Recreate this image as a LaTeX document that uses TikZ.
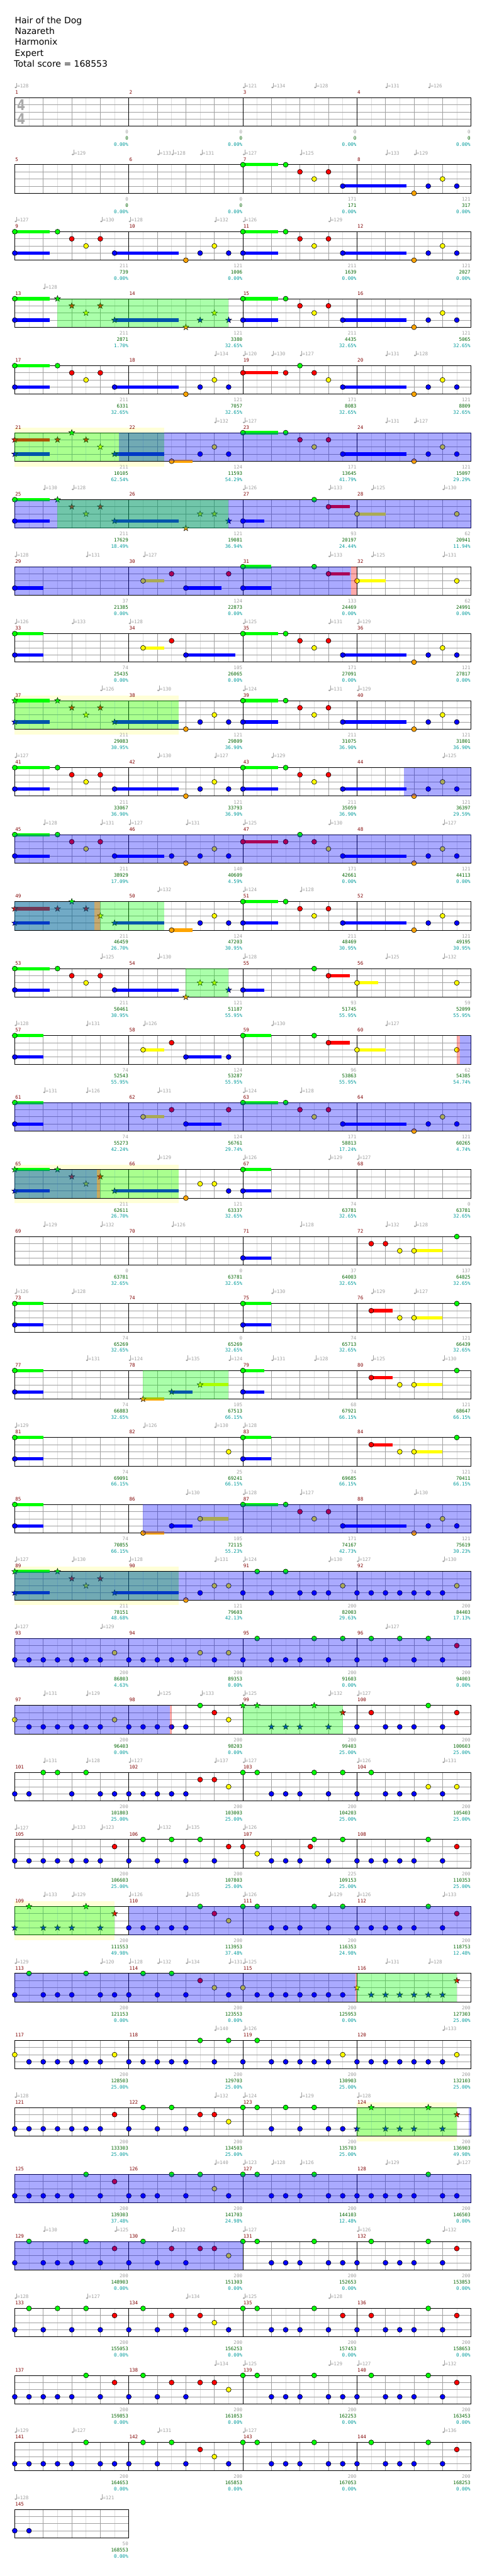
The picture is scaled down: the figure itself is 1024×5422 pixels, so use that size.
\documentclass[tikz,border=0pt]{standalone}
\usepackage{fontspec}
\setmainfont{DejaVu Sans}
\newfontfamily\monof{DejaVu Sans Mono}
\pgfdeclarelayer{base}\pgfdeclarelayer{bg}\pgfdeclarelayer{ov}
\pgfsetlayers{base,bg,main,ov}
\definecolor{ng}{RGB}{0,255,0}
\definecolor{nr}{RGB}{255,0,0}
\definecolor{ny}{RGB}{255,255,0}
\definecolor{nb}{RGB}{0,0,255}
\definecolor{no}{RGB}{255,165,0}
\definecolor{lgray}{RGB}{160,160,160}
\definecolor{hgray}{RGB}{222,222,222}
\definecolor{mred}{RGB}{128,0,0}
\definecolor{sgreen}{RGB}{0,100,0}
\definecolor{steal}{RGB}{0,155,155}
\definecolor{solocol}{RGB}{255,255,215}
\definecolor{tsig}{RGB}{170,170,170}
\def\lng{0}\def\lnr{1}\def\lny{2}\def\lnb{3}\def\lno{4}
\tikzset{
  hb/.style={hgray,line width=0.9pt},
  gl/.style={lgray,line width=0.9pt},
  ml/.style={black,line width=1pt},
  ol/.style={black,line width=1.1pt},
  smallf/.style={font=\monof\fontsize{10}{12}\selectfont,inner sep=0pt},
  mnum/.style={smallf,text=mred,anchor=west},
  sg/.style={smallf,text=lgray,anchor=east},
  sc/.style={smallf,text=sgreen,anchor=east},
  sp/.style={smallf,text=steal,anchor=east},
  tnum/.style={smallf,text=lgray,anchor=west},
  hdr/.style={font=\fontsize{18.5}{22}\selectfont,anchor=base west,inner sep=0pt},
  tsigst/.style={font=\fontsize{31}{31}\selectfont\bfseries,text=tsig,inner sep=0pt,xscale=0.8},
  notest/.style={draw=black,line width=0.8pt},
  starst/.style={draw=black,line width=0.6pt}
}
\newcommand\staff[2]{%
  \pgfmathsetmacro\sy{205.7+141*#1}%
  \pgfmathsetmacro\sxe{31+240*#2}%
  \pgfmathtruncatemacro\nk{8*#2-1}%
  \pgfmathtruncatemacro\nbb{8*#2-2}%
  \foreach \k in {1,3,...,\nk}{\draw[hb] (31+30*\k,\sy) -- (31+30*\k,\sy+60);}%
  \foreach \k in {1,2,3}{\draw[gl] (31,\sy+15*\k) -- (\sxe,\sy+15*\k);}%
  \foreach \k in {2,4,...,\nbb}{\draw[gl] (31+30*\k,\sy) -- (31+30*\k,\sy+60);}%
  \ifnum#2>1 \foreach \k in {2,...,#2}{\draw[ml] (31+240*\k-240,\sy) -- (31+240*\k-240,\sy+60);}\fi
  \draw[ol] (31,\sy) rectangle (\sxe,\sy+60);}
\newcommand\meas[4]{%
  \pgfmathtruncatemacro\mr{(#1-1)/4}%
  \pgfmathsetmacro\mx{31+240*(#1-1-4*\mr)}%
  \pgfmathsetmacro\my{205.7+141*\mr}%
  \node[mnum,name=mn#1] at (\mx+1,\my-11.4) {#1};%
  \node[sg,name=sa#1] at (\mx+239,\my+72.3) {#2};%
  \node[sc,name=sb#1] at (\mx+239,\my+85.5) {#3};%
  \node[sp,name=sd#1] at (\mx+239,\my+98.5) {#4\%};}
\newcommand\tempi[2]{\foreach \p/\tv in {#2}{%
  \fill[lgray] (33+30*\p,{205.7+141*#1-21.6}) ellipse[x radius=2.4pt,y radius=1.7pt];
  \draw[lgray,line width=0.8pt] (35+30*\p,{205.7+141*#1-21.6}) -- (35+30*\p,{205.7+141*#1-31.5});
  \node[tnum,name=tp#1x\p] at (36+30*\p,{205.7+141*#1-24.7}) {=\tv};}}
\newcommand\notes[2]{\foreach \p/\l in {#2}{%
  \filldraw[notest,fill=n\l] (31+30*\p,{205.7+141*#1+15*\csname ln\l\endcsname}) circle[radius=5.2pt];}}
\newcommand\stars[2]{\foreach \p/\l in {#2}{%
  \filldraw[starst,fill=n\l,shift={(31+30*\p,{205.7+141*#1+15*\csname ln\l\endcsname})}]
   (90:6.6pt) -- (126:2.7pt) -- (162:6.6pt) -- (198:2.7pt) -- (234:6.6pt) -- (270:2.7pt) -- (306:6.6pt) -- (342:2.7pt) -- (18:6.6pt) -- (54:2.7pt) -- cycle;}}
\newcommand\sust[2]{\foreach \a/\b/\l in {#2}{%
  \fill[n\l] (31+30*\a,{205.7+141*#1+15*\csname ln\l\endcsname-3.4}) rectangle (31+30*\b,{205.7+141*#1+15*\csname ln\l\endcsname+3.4});}}
\newcommand\solo[3]{\begin{pgfonlayer}{bg}\fill[solocol] (31+30*#2,{205.7+141*#1-10.5}) rectangle (31+30*#3,{205.7+141*#1+71});\end{pgfonlayer}}
\newcommand\ovl[4]{\begin{pgfonlayer}{ov}\fill[#4,fill opacity=0.3333] (31+30*#2,{205.7+141*#1}) rectangle (31+30*#3,{205.7+141*#1+60});\end{pgfonlayer}}
\newcommand\phr[3]{\ovl{#1}{#2}{#3}{ng}}
\newcommand\odv[3]{\ovl{#1}{#2}{#3}{nb}}
\newcommand\redb[3]{\ovl{#1}{#2}{#3}{nr}}
\begin{document}
\begin{tikzpicture}[x=1pt,y=-1pt]
\begin{pgfonlayer}{base}\fill[white] (0,0) rectangle (1024,5422);\end{pgfonlayer}
\useasboundingbox (0,0) rectangle (1024,5422);
\node[hdr,name=h1] at (31,49.3) {Hair of the Dog};
\node[hdr,name=h2] at (31,72.3) {Nazareth};
\node[hdr,name=h3] at (31,95.3) {Harmonix};
\node[hdr,name=h4] at (31,118.3) {Expert};
\node[hdr,name=h5] at (29.5,141.3) {Total score = 168553};
\foreach \r in {0,...,35}{\staff{\r}{4}}
\staff{36}{1}
\node[tsigst,name=ts1] at (44.5,220.5) {4};
\node[tsigst,name=ts2] at (44.5,250.2) {4};
\foreach \mm/\ma/\mb/\mc in {1/0/0/0.00,2/0/0/0.00,3/0/0/0.00,4/0/0/0.00,
5/0/0/0.00,6/0/0/0.00,7/171/171/0.00,8/121/317/0.00,
9/211/739/0.00,10/121/1006/0.00,11/211/1639/0.00,12/121/2027/0.00,
13/211/2871/1.70,14/121/3380/32.65,15/211/4435/32.65,16/121/5065/32.65,
17/211/6331/32.65,18/121/7057/32.65,19/171/8083/32.65,20/121/8809/32.65,
21/211/10105/62.54,22/124/11593/54.29,23/171/13645/41.79,24/121/15097/29.29,
25/211/17629/18.49,26/121/19081/36.94,27/93/20197/24.44,28/62/20941/11.94,
29/37/21385/0.00,30/124/22873/0.00,31/133/24469/0.00,32/62/24991/0.00,
33/74/25435/0.00,34/105/26065/0.00,35/171/27091/0.00,36/121/27817/0.00,
37/211/29083/30.95,38/121/29809/36.90,39/211/31075/36.90,40/121/31801/36.90,
41/211/33067/36.90,42/121/33793/36.90,43/211/35059/36.90,44/121/36397/29.59,
45/211/38929/17.09,46/140/40609/4.59,47/171/42661/0.00,48/121/44113/0.00,
49/211/46459/26.70,50/124/47203/30.95,51/211/48469/30.95,52/121/49195/30.95,
53/211/50461/30.95,54/121/51187/55.95,55/93/51745/55.95,56/59/52099/55.95,
57/74/52543/55.95,58/124/53287/55.95,59/96/53863/55.95,60/62/54385/54.74,
61/74/55273/42.24,62/124/56761/29.74,63/171/58813/17.24,64/121/60265/4.74,
65/211/62611/26.70,66/121/63337/32.65,67/74/63781/32.65,68/0/63781/32.65,
69/0/63781/32.65,70/0/63781/32.65,71/37/64003/32.65,72/137/64825/32.65,
73/74/65269/32.65,74/0/65269/32.65,75/74/65713/32.65,76/121/66439/32.65,
77/74/66883/32.65,78/105/67513/66.15,79/68/67921/66.15,80/121/68647/66.15,
81/74/69091/66.15,82/25/69241/66.15,83/74/69685/66.15,84/121/70411/66.15,
85/74/70855/66.15,86/105/72115/55.23,87/171/74167/42.73,88/121/75619/30.23,
89/211/78151/48.68,90/121/79603/42.13,91/200/82003/29.63,92/200/84403/17.13,
93/200/86803/4.63,94/200/89353/0.00,95/200/91603/0.00,96/200/94003/0.00,
97/200/96403/0.00,98/200/98203/0.00,99/200/99403/25.00,100/200/100603/25.00,
101/200/101803/25.00,102/200/103003/25.00,103/200/104203/25.00,104/200/105403/25.00,
105/200/106603/25.00,106/200/107803/25.00,107/225/109153/25.00,108/200/110353/25.00,
109/200/111553/49.98,110/200/113953/37.48,111/200/116353/24.98,112/200/118753/12.48,
113/200/121153/0.00,114/200/123553/0.00,115/200/125953/0.00,116/200/127303/25.00,
117/200/128503/25.00,118/200/129703/25.00,119/200/130903/25.00,120/200/132103/25.00,
121/200/133303/25.00,122/200/134503/25.00,123/200/135703/25.00,124/200/136903/49.98,
125/200/139303/37.48,126/200/141703/24.98,127/200/144103/12.48,128/200/146503/0.00,
129/200/148903/0.00,130/200/151303/0.00,131/200/152653/0.00,132/200/153853/0.00,
133/200/155053/0.00,134/200/156253/0.00,135/200/157453/0.00,136/200/158653/0.00,
137/200/159853/0.00,138/200/161053/0.00,139/200/162253/0.00,140/200/163453/0.00,
141/200/164653/0.00,142/200/165853/0.00,143/200/167053/0.00,144/200/168253/0.00,
145/50/168553/0.00}{\meas{\mm}{\ma}{\mb}{\mc}}
% row 0
\tempi{0}{0/128,16/121,18/134,21/128,26/131,29/126}
% row 1
\tempi{1}{4/129,10/133,11/128,13/131,16/127,20/125,26/133,28/129}
\sust{1}{16/18.49/g,23/27.48/b}
\notes{1}{16/g,19/g,20/r,21/y,22/r,23/b,28/o,29/b,30/y,31/b}
% row 2
\tempi{2}{0/127,6/130,8/128,14/132,16/126,22/129}
\sust{2}{0/2.47/g,0/2.47/b,7/11.48/b,16/18.49/g,16/18.49/b,23/27.48/b}
\notes{2}{0/g,3/g,4/r,5/y,6/r,0/b,7/b,12/o,13/b,14/y,15/b,16/g,19/g,20/r,21/y,22/r,16/b,23/b,28/o,29/b,30/y,31/b}
% row 3
\tempi{3}{2/128}
\phr{3}{3}{15}
\sust{3}{0/2.47/g,0/2.47/b,7/11.48/b,16/18.49/g,16/18.49/b,23/27.48/b}
\notes{3}{0/g,0/b,16/g,19/g,20/r,21/y,22/r,16/b,23/b,28/o,29/b,30/y,31/b}
\stars{3}{3/g,4/r,5/y,6/r,7/b,12/o,13/b,14/y,15/b}
% row 4
\tempi{4}{14/134,16/120,18/130,20/127,26/131,28/128}
\sust{4}{0/2.47/g,0/2.47/b,7/11.48/b,16/18.49/r,23/27.48/b}
\notes{4}{0/g,3/g,4/r,5/y,6/r,0/b,7/b,12/o,13/b,14/y,15/b,16/r,19/r,20/g,21/r,22/y,23/b,28/o,29/b,30/y,31/b}
% row 5
\tempi{5}{14/132,16/127,26/131,28/127}
\solo{5}{0}{10.5}
\phr{5}{0}{10.5}
\odv{5}{7.3}{32}
\sust{5}{0/2.47/r,0/2.47/b,7/10.5/b,11/12.48/o,16/18.49/g,23/27.48/b}
\notes{5}{11/o,13/b,14/y,15/b,16/g,19/g,20/r,21/y,22/r,23/b,28/o,29/b,30/y,31/b}
\stars{5}{0/r,0/b,3/r,4/g,5/r,6/y,7/b}
% row 6
\tempi{6}{2/130,4/128,16/126,22/133,25/125,30/130}
\odv{6}{0}{32}
\phr{6}{3}{15}
\sust{6}{0/2.47/g,0/2.47/b,7/11.48/b,16/17.49/b,22/23.5/r,24/26/y}
\notes{6}{0/g,0/b,16/b,21/g,22/r,24/y,31/y}
\stars{6}{3/g,4/r,5/y,6/r,7/b,12/o,13/y,14/y,15/b}
% row 7
\tempi{7}{0/128,5/131,9/127,22/133,25/125,30/131}
\odv{7}{0}{23.6}
\redb{7}{23.6}{24}
\sust{7}{0/2/b,9/10.48/y,12/14.49/b,16/18/g,16/18/b,22/23.5/r,24/26/y}
\notes{7}{0/b,9/y,11/r,15/r,12/b,16/g,16/b,21/g,22/r,24/y,31/y}
% row 8
\tempi{8}{0/126,4/133,8/128,16/125,22/131,24/129}
\sust{8}{0/2/g,0/2/b,9/10.48/y,12/15.49/b,16/18.49/g,23/27.48/b}
\notes{8}{0/g,0/b,9/y,11/r,12/b,16/g,19/g,20/r,21/y,22/r,23/b,28/o,29/b,30/y,31/b}
% row 9
\tempi{9}{6/126,10/130,16/124,22/131,24/129}
\solo{9}{0}{11.48}
\phr{9}{0}{11.48}
\sust{9}{0/2.47/g,0/2.47/b,7/11.48/b,16/18.49/g,16/18.49/b,23/27.48/b}
\notes{9}{12/o,13/b,14/y,15/b,16/g,19/g,20/r,21/y,22/r,16/b,23/b,28/o,29/b,30/y,31/b}
\stars{9}{0/g,3/g,4/r,5/y,6/r,0/b,7/b}
% row 10
\tempi{10}{0/127,10/130,14/127,18/129,30/125}
\odv{10}{27.3}{32}
\sust{10}{0/2.47/g,0/2.47/b,7/11.48/b,16/18.49/g,16/18.49/b,23/27.48/b}
\notes{10}{0/g,3/g,4/r,5/y,6/r,0/b,7/b,12/o,13/b,14/y,15/b,16/g,19/g,20/r,21/y,22/r,16/b,23/b,28/o,29/b,30/y,31/b}
% row 11
\tempi{11}{2/128,6/131,8/127,12/131,16/125,22/130,30/127}
\odv{11}{0}{32}
\sust{11}{0/2.47/g,0/2.47/b,7/10.48/b,16/18.49/r,23/27.48/b}
\notes{11}{0/g,3/g,4/r,5/y,6/r,0/b,7/b,11/b,12/o,13/b,14/y,15/b,16/r,19/r,20/g,21/r,22/y,23/b,28/o,29/b,30/y,31/b}
% row 12
\tempi{12}{10/132,16/124,20/128}
\phr{12}{0}{10.48}
\odv{12}{0}{5.6}
\redb{12}{5.6}{6}
\sust{12}{0/2.47/r,0/2.47/b,7/10.48/b,11/12.48/o,16/18.49/g,16/18.49/b,23/27.48/b}
\notes{12}{11/o,13/b,14/y,15/b,16/g,19/g,20/r,21/y,22/r,16/b,23/b,28/o,29/b,30/y,31/b}
\stars{12}{0/r,0/b,3/r,4/g,5/r,6/y,7/b}
% row 13
\tempi{13}{6/125,10/130,16/128,26/125,30/132}
\phr{13}{12}{15}
\sust{13}{0/2.47/g,0/2.47/b,7/11.48/b,16/17.49/b,22/23.5/r,24/25.5/y}
\notes{13}{0/g,3/g,4/r,5/y,6/r,0/b,7/b,16/b,21/g,22/r,24/y,31/y}
\stars{13}{12/o,13/y,14/y,15/b}
% row 14
\tempi{14}{0/128,5/131,9/126,18/130,26/127}
\redb{14}{31}{31.2}
\odv{14}{31.2}{32}
\sust{14}{0/2/g,0/2/b,9/10.48/y,12/14.49/b,16/18/g,22/23.5/r,24/26/y}
\notes{14}{0/g,0/b,9/y,11/r,12/b,15/b,16/g,21/g,22/r,24/y,31/y}
% row 15
\tempi{15}{2/131,5/126,10/131,16/124,20/128}
\odv{15}{0}{32}
\sust{15}{0/2/g,0/2/b,9/10.48/y,12/14.49/b,16/18.49/g,23/27.48/b}
\notes{15}{0/g,0/b,9/y,11/r,15/r,12/b,16/g,19/g,20/r,21/y,22/r,23/b,28/o,29/b,30/y,31/b}
% row 16
\tempi{16}{10/129,16/126,22/129,24/127}
\solo{16}{0}{11.48}
\phr{16}{0}{11.48}
\odv{16}{0}{5.76}
\redb{16}{5.76}{6}
\sust{16}{0/2.47/g,0/2.47/b,7/11.48/b,16/18/g,16/18/b}
\notes{16}{12/o,13/y,14/y,15/b,16/g,16/b}
\stars{16}{0/g,3/g,4/r,5/y,6/r,0/b,7/b}
% row 17
\tempi{17}{2/129,6/132,11/126,20/128,26/132,28/128}
\sust{17}{16/18/b,28/30/y}
\notes{17}{16/b,25/r,26/r,27/y,28/y,31/g}
% row 18
\tempi{18}{0/126,4/128,18/130,25/129,28/127}
\sust{18}{0/2/g,0/2/b,16/18/g,16/18/b,25/26.5/r,28/30/y}
\notes{18}{0/g,0/b,16/g,16/b,25/r,27/y,28/y,31/g}
% row 19
\tempi{19}{5/131,8/124,12/135,15/124,18/131,21/128,25/125,30/130}
\phr{19}{9}{15}
\sust{19}{0/2/g,0/2/b,9/10.48/o,11/12.48/b,13/15/y,16/17.49/g,16/17.49/b,25/26.5/r,28/30/y}
\notes{19}{0/g,0/b,16/g,16/b,25/r,27/y,28/y,31/g}
\stars{19}{9/o,11/b,13/y}
% row 20
\tempi{20}{0/129,9/126,14/130,16/128}
\sust{20}{0/2/g,0/2/b,16/18/g,16/18/b,25/26.5/r,28/30/y}
\notes{20}{0/g,0/b,15/y,16/g,16/b,25/r,27/y,28/y,31/g}
% row 21
\tempi{21}{12/130,16/128,20/127,28/130}
\odv{21}{9}{32}
\sust{21}{0/2/g,0/2/b,9/10.48/o,11/12.48/b,13/15/y,16/18.49/g,23/27.48/b}
\notes{21}{0/g,0/b,9/o,11/b,13/y,16/g,19/g,20/r,21/y,22/r,23/b,28/o,29/b,30/y,31/b}
% row 22
\tempi{22}{0/127,4/130,8/128,14/131,16/124,22/130,24/127,30/130}
\solo{22}{0}{11.48}
\phr{22}{0}{11.48}
\odv{22}{0}{32}
\sust{22}{0/2.47/g,0/2.47/b,7/11.48/b}
\notes{22}{12/o,13/b,14/y,15/y,16/b,17/g,18/b,19/g,20/b,21/b,22/b,23/y,24/b,25/b,26/b,27/b,28/b,29/b,30/b,31/y}
\stars{22}{0/g,3/g,4/r,5/y,6/r,0/b,7/b}
% row 23
\tempi{23}{0/127,6/129,26/127}
\odv{23}{0}{32}
\notes{23}{0/b,1/b,2/b,3/b,4/b,5/b,6/b,7/y,8/b,9/b,10/b,11/b,12/b,13/y,14/b,15/y,16/b,17/g,18/b,19/b,20/b,21/g,22/b,23/g,24/b,25/g,26/b,27/g,28/b,29/g,30/b,31/r}
% row 24
\tempi{24}{2/131,5/129,10/125,13/133,16/125,22/132,24/127}
\odv{24}{0}{10.9}
\redb{24}{10.9}{11}
\phr{24}{16}{23}
\notes{24}{0/y,1/b,2/b,3/b,4/b,5/b,6/b,7/y,8/b,9/b,10/b,11/b,12/b,13/g,14/r,15/y,24/b,25/r,26/b,27/b,28/b,29/g,30/b,31/r}
\stars{24}{16/g,17/g,18/b,19/b,20/b,21/g,22/b,23/r}
% row 25
\tempi{25}{2/131,5/128,8/127,14/137,16/127,24/126,30/131}
\notes{25}{0/b,1/b,2/g,3/g,4/b,5/g,6/b,7/b,8/b,9/b,10/b,11/b,12/b,13/r,14/r,15/y,16/g,17/g,18/b,19/b,20/b,21/g,22/b,23/g,24/b,25/g,26/b,27/b,28/b,29/y,30/b,31/y}
% row 26
\tempi{26}{0/127,4/133,6/123,10/132,12/135,16/126}
\notes{26}{0/b,1/b,2/b,3/b,4/b,5/b,6/b,7/r,8/b,9/g,10/b,11/g,12/b,13/g,14/b,15/r,16/r,17/y,18/b,19/b,20/b,20.73/r,21/g,22/b,23/g,24/b,25/b,26/b,27/b,28/b,29/g,30/b,31/r}
% row 27
\tempi{27}{2/133,4/129,8/126,12/135,16/126,22/129,24/126,30/133}
\solo{27}{0}{7}
\phr{27}{0}{7}
\odv{27}{8}{32}
\notes{27}{8/b,9/b,10/b,11/b,12/b,13/g,14/r,15/y,16/g,17/g,18/b,19/b,20/b,21/g,22/b,23/g,24/b,25/b,26/b,27/b,28/b,29/g,30/b,31/r}
\stars{27}{0/b,1/g,2/b,3/b,4/b,5/g,6/b,7/r}
% row 28
\tempi{28}{0/129,6/120,8/128,10/132,12/134,15/131,16/125,26/131,29/128}
\odv{28}{0}{23.9}
\redb{28}{23.9}{24}
\phr{28}{24}{31}
\notes{28}{0/b,1/g,2/b,3/b,4/b,5/g,6/b,7/b,8/b,9/g,10/b,11/g,12/b,13/r,14/y,15/b,16/y,17/b,18/b,19/b,20/b,21/b,22/b,23/b}
\stars{28}{24/y,25/b,26/b,27/b,28/b,29/b,30/b,31/r}
% row 29
\tempi{29}{14/140,16/126,30/133}
\notes{29}{0/y,1/b,2/b,3/b,4/b,5/b,6/b,7/y,8/b,9/b,10/b,11/b,12/b,13/g,14/b,15/g,16/b,17/g,18/b,19/b,20/b,21/b,22/b,23/y,24/b,25/b,26/b,27/b,28/b,29/b,30/b,31/y}
% row 30
\tempi{30}{0/128,14/132,16/124,20/129,24/128}
\solo{30}{24}{31}
\phr{30}{24}{31}
\odv{30}{31.85}{32}
\notes{30}{0/b,1/b,2/b,3/b,4/b,5/b,6/b,7/r,8/b,9/g,10/b,11/g,12/b,13/r,14/r,15/y,16/g,17/g,18/b,19/g,20/b,21/g,22/b,23/b}
\stars{30}{24/b,25/g,26/b,27/b,28/b,29/g,30/b,31/r}
% row 31
\tempi{31}{14/140,16/123,18/128,20/126,26/129,31/127}
\odv{31}{0}{32}
\notes{31}{0/b,1/b,2/b,3/b,4/b,5/g,6/b,7/r,8/b,9/b,10/b,11/g,12/b,13/g,14/y,15/b,16/g,17/g,18/b,19/b,20/b,21/g,22/b,23/b,24/b,25/b,26/b,27/b,28/b,29/g,30/b,31/b}
% row 32
\tempi{32}{2/130,7/125,11/132,16/127,24/126,30/132}
\odv{32}{0}{16}
\notes{32}{0/b,1/g,2/b,3/b,4/b,5/g,6/b,7/r,8/b,9/g,10/b,11/r,12/b,13/r,14/r,15/y,16/g,17/g,18/b,19/b,20/b,21/g,22/b,23/b,24/b,25/g,26/b,27/b,28/b,29/g,30/b,31/r}
% row 33
\tempi{33}{0/128,5/127,12/134,16/125,22/128}
\notes{33}{0/b,1/g,2/b,3/g,4/b,5/g,6/b,7/r,8/b,9/g,10/b,11/r,12/b,13/r,14/y,15/b,16/g,17/g,18/b,19/b,20/b,21/g,22/b,23/r,24/b,25/r,26/b,27/b,28/b,29/g,30/b,31/r}
% row 34
\tempi{34}{14/134,16/125,22/129,24/127,30/132}
\notes{34}{0/b,1/b,2/b,3/b,4/b,5/g,6/b,7/r,8/b,9/g,10/b,11/r,12/b,13/r,14/r,15/y,16/g,17/g,18/b,19/b,20/b,21/g,22/b,23/b,24/b,25/g,26/b,27/b,28/b,29/g,30/b,31/r}
% row 35
\tempi{35}{0/129,4/127,10/131,16/127,30/136}
\notes{35}{0/b,1/b,2/b,3/b,4/b,5/g,6/b,7/b,8/b,9/g,10/b,11/g,12/b,13/r,14/y,15/b,16/g,17/g,18/b,19/b,20/b,21/g,22/b,23/b,24/b,25/g,26/b,27/b,28/b,29/g,30/b,31/r}
% row 36
\tempi{36}{0/128,6/121}
\notes{36}{0/b,1/b}
\end{tikzpicture}
\end{document}
